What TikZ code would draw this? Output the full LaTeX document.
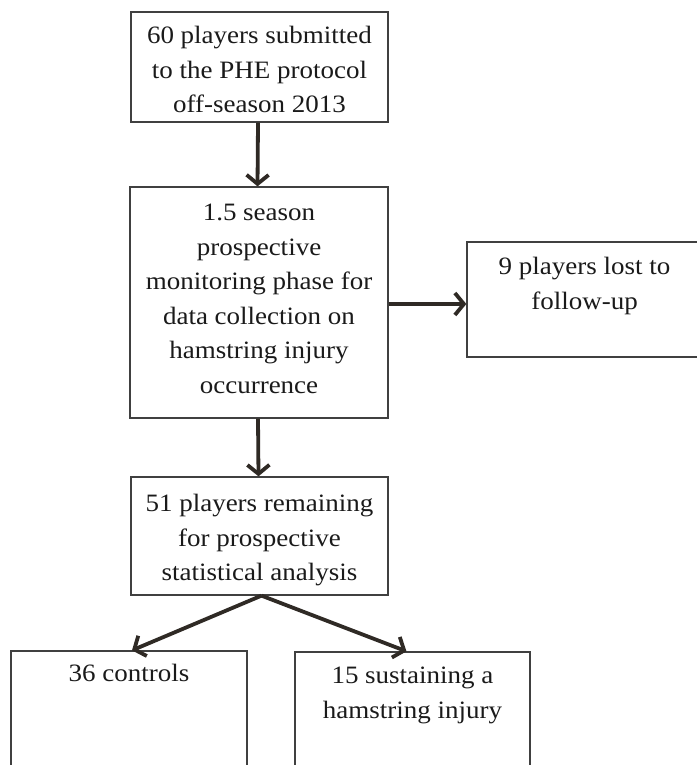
\documentclass[tikz,border=0pt]{standalone}
\usepackage{fontspec}
\setmainfont{Liberation Serif}[FakeStretch=1.08]
\usetikzlibrary{arrows.meta}
\definecolor{boxc}{HTML}{404040}
\definecolor{arrc}{HTML}{2F2A25}
\definecolor{txtc}{HTML}{1A1A1A}
\begin{document}
\begin{tikzpicture}[x=1pt,y=-1pt,
  box/.style={draw=boxc,line width=1.3pt,rectangle,inner sep=0pt},
  txt/.style={align=center,inner sep=0pt,anchor=north,text=txtc,
    font=\fontsize{25}{34.5}\selectfont},
  arr/.style={draw=arrc,line width=3.8pt,-{Straight Barb[length=9pt,width=22pt]}}]
\useasboundingbox (0,0) rectangle (696,765);
% boxes
\node[box,minimum width=257pt,minimum height=110pt] (b1) at (259.5,67) {};
\node[box,minimum width=258pt,minimum height=231pt] (b2) at (259,302.5) {};
\node[box,minimum width=235pt,minimum height=115pt] (b3) at (584.5,299.5) {};
\node[box,minimum width=257pt,minimum height=118pt] (b4) at (259.5,536) {};
\node[box,minimum width=236pt,minimum height=130pt] (b5) at (129,716) {};
\node[box,minimum width=235pt,minimum height=130pt] (b6) at (412.5,717) {};
% texts
\node[txt] (t1) at ([yshift=-8pt]b1.north) {\strut 60 players submitted\\to the PHE protocol\\off-season 2013};
\node[txt] (t2) at ([yshift=-10pt]b2.north) {\strut 1.5 season\\prospective\\monitoring phase for\\data collection on\\hamstring injury\\occurrence};
\node[txt] (t3) at ([yshift=-9pt]b3.north) {\strut 9 players lost to\\follow-up};
\node[txt] (t4) at ([yshift=-11pt]b4.north) {\strut 51 players remaining\\for prospective\\statistical analysis};
\node[txt] (t5) at ([yshift=-7pt]b5.north) {\strut 36 controls};
\node[txt] (t6) at ([yshift=-8pt]b6.north) {\strut 15 sustaining a\\hamstring injury};
% connectors
\coordinate (s5) at ([xshift=2pt]b4.south);
\coordinate (e5) at ([xshift=3pt]b5.north);
\coordinate (e6) at ([xshift=-6pt]b6.north);
\draw[arr] ([xshift=-1.5pt]b1.south) -- ([xshift=-1.5pt]b2.north);
\draw[arr] (b2.east |- 0,304) -- (b3.west |- 0,304);
\draw[arr] ([xshift=-1pt]b2.south) -- ([xshift=-1pt]b4.north);
\draw[arr] (s5) -- (e5);
\draw[arr] (s5) -- (e6);
\end{tikzpicture}
\end{document}
